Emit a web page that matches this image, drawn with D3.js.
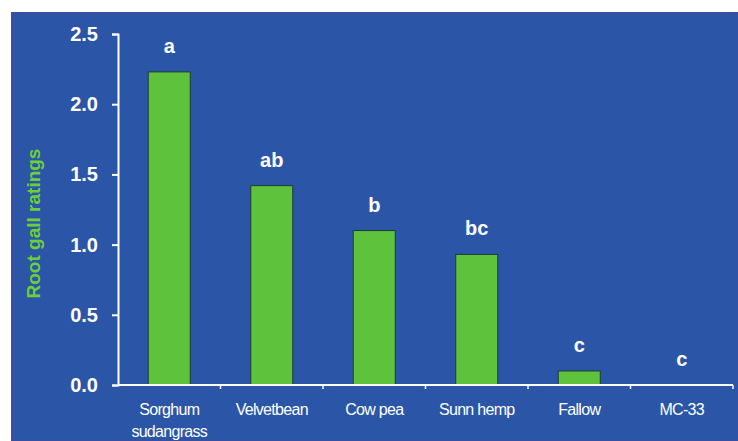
<!DOCTYPE html>
<html>
<head>
<meta charset="utf-8">
<script src="https://cdn.jsdelivr.net/npm/d3@7"></script>
<style>
  html, body { margin: 0; padding: 0; background: #ffffff; }
  svg { display: block; }
</style>
</head>
<body>
<svg id="chart" width="738" height="441"></svg>
<script>
// Root gall ratings by cover crop treatment
const categories = ["Sorghum\nsudangrass", "Velvetbean", "Cow pea", "Sunn hemp", "Fallow", "MC-33"];
const ratings = [2.23, 1.42, 1.10, 0.93, 0.10, 0.0];
const groupLetters = ["a", "ab", "b", "bc", "c", "c"];
const yTicks = [0, 0.5, 1.0, 1.5, 2.0, 2.5];

const W = 738, H = 441;
const margin = { left: 118, right: 5, top: 34, bottom: 56 };
const svg = d3.select("#chart");

// blue panel
svg.append("rect")
  .attr("x", 12).attr("y", 13)
  .attr("width", W - 12).attr("height", H - 13)
  .attr("fill", "#2b56a8")
  .attr("stroke", "#3a4fa0").attr("stroke-width", 2);

const x = d3.scaleBand()
  .domain(categories)
  .range([margin.left, W - margin.right])
  .paddingInner(0.59).paddingOuter(0.295);

const xOuter = d3.scaleBand()
  .domain(categories)
  .range([margin.left, W - margin.right]);

const y = d3.scaleLinear()
  .domain([0, 2.5])
  .range([H - margin.bottom, margin.top]);

// bars
svg.append("g").selectAll("rect")
  .data(ratings)
  .join("rect")
  .attr("x", (d, i) => x(categories[i]))
  .attr("y", d => y(d))
  .attr("width", x.bandwidth())
  .attr("height", d => y(0) - y(d))
  .attr("fill", "#5ec23c")
  .attr("stroke", "#1f3a3a")
  .attr("stroke-width", 1);

// significance letters
svg.append("g").selectAll("text")
  .data(groupLetters)
  .join("text")
  .attr("x", (d, i) => xOuter(categories[i]) + xOuter.bandwidth() / 2)
  .attr("y", (d, i) => y(ratings[i]) - 19)
  .attr("text-anchor", "middle")
  .attr("fill", "#ffffff")
  .attr("font-family", "Liberation Sans, Arial, sans-serif")
  .attr("font-weight", "bold")
  .attr("font-size", 20)
  .text(d => d);

// y axis
const yAxis = svg.append("g")
  .attr("transform", `translate(${margin.left},0)`)
  .call(d3.axisLeft(y).tickValues(yTicks).tickFormat(d3.format(".1f")).tickSize(6).tickPadding(14));
yAxis.select(".domain").attr("stroke", "#ffffff").attr("stroke-width", 2);
yAxis.selectAll(".tick line").attr("stroke", "#ffffff").attr("stroke-width", 2);
yAxis.selectAll(".tick text")
  .attr("fill", "#ffffff")
  .attr("font-family", "Liberation Sans, Arial, sans-serif")
  .attr("font-weight", "bold")
  .attr("font-size", 20);

// x axis with ticks at band boundaries
const xBase = y(0);
svg.append("line")
  .attr("x1", margin.left).attr("x2", W - margin.right)
  .attr("y1", xBase).attr("y2", xBase)
  .attr("stroke", "#ffffff").attr("stroke-width", 2);
svg.append("g").selectAll("line")
  .data(categories)
  .join("line")
  .attr("x1", d => xOuter(d) + xOuter.bandwidth())
  .attr("x2", d => xOuter(d) + xOuter.bandwidth())
  .attr("y1", xBase).attr("y2", xBase + 4)
  .attr("stroke", "#ffffff").attr("stroke-width", 1.5);

// category labels
const labels = svg.append("g").selectAll("text")
  .data(categories)
  .join("text")
  .attr("x", d => xOuter(d) + xOuter.bandwidth() / 2)
  .attr("y", xBase + 30)
  .attr("text-anchor", "middle")
  .attr("fill", "#ffffff")
  .attr("font-family", "Liberation Sans, Arial, sans-serif")
  .attr("font-size", 16)
  .attr("letter-spacing", -0.7);
labels.each(function(d) {
  const lines = d.split("\n");
  d3.select(this).selectAll("tspan")
    .data(lines)
    .join("tspan")
    .attr("x", d3.select(this).attr("x"))
    .attr("dy", (l, i) => i === 0 ? 0 : 22)
    .text(l => l);
});

// y axis title
svg.append("text")
  .attr("transform", `translate(40,${(y(0) + y(2.5)) / 2 + 14}) rotate(-90)`)
  .attr("text-anchor", "middle")
  .attr("fill", "#6ccf3a")
  .attr("font-family", "Liberation Sans, Arial, sans-serif")
  .attr("font-weight", "bold")
  .attr("font-size", 19)
  .text("Root gall ratings");
</script>
</body>
</html>
